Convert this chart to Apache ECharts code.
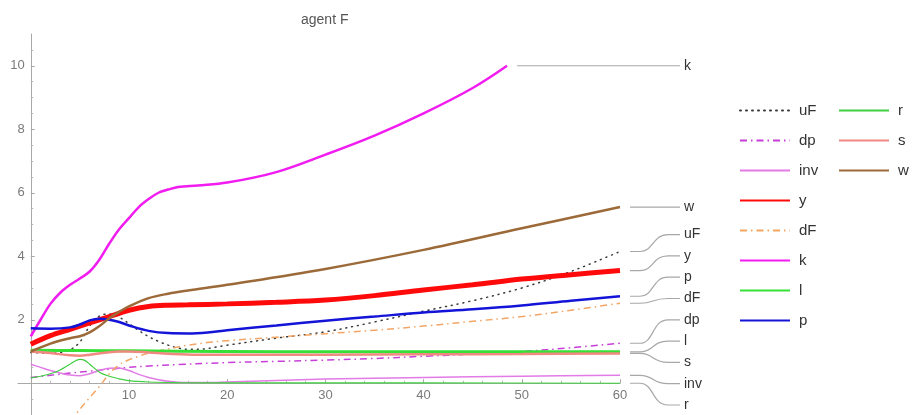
<!DOCTYPE html>
<html>
<head>
<meta charset="utf-8">
<title>agent F</title>
<script src="https://cdn.jsdelivr.net/npm/echarts@6/dist/echarts.min.js"></script>
<style>
  html, body { margin: 0; padding: 0; background: #ffffff; }
  #chart { width: 921px; height: 415px; }
</style>
</head>
<body>
<div id="chart"></div>
<script>
// ---- data: [t, value] pairs for each trajectory ----
const uF = [[0,0.97],[2,0.95],[3,0.97],[4,1.05],[5,1.3],[6,1.8],[7,2.12],[8,2.18],[9,2.08],[10,1.88],[11,1.66],[12,1.47],[13,1.32],[14,1.2],[15,1.11],[16,1.07],[17,1.07],[20,1.2],[25,1.42],[30,1.62],[35,1.93],[40,2.27],[45,2.6],[50,3.0],[55,3.52],[60,4.15]];
const dp = [[0,0.18],[2,0.25],[4,0.32],[6,0.38],[8,0.44],[10,0.5],[12,0.54],[15,0.59],[20,0.65],[25,0.69],[30,0.73],[35,0.78],[40,0.85],[45,0.92],[50,1.0],[55,1.12],[60,1.26]];
const inv = [[0,0.6],[1,0.5],[2,0.4],[3,0.32],[4,0.26],[5,0.24],[6,0.3],[7,0.4],[8,0.47],[9,0.48],[10,0.4],[11,0.28],[12,0.18],[13,0.11],[14,0.06],[15,0.03],[16,0.02],[18,0.02],[20,0.04],[25,0.09],[30,0.13],[40,0.18],[50,0.22],[60,0.25]];
const yOut = [[0,1.23],[2,1.5],[4,1.7],[6,1.9],[8,2.1],[10,2.3],[12,2.42],[14,2.46],[16,2.47],[20,2.5],[25,2.55],[30,2.62],[35,2.76],[40,2.94],[45,3.1],[50,3.28],[55,3.42],[60,3.55]];
const dF = [[4,-1.2],[5,-0.82],[6,-0.45],[7,-0.1],[8,0.3],[9,0.58],[10,0.74],[11,0.85],[12,0.95],[14,1.08],[16,1.2],[18,1.28],[20,1.34],[25,1.45],[30,1.56],[35,1.67],[40,1.8],[45,1.95],[50,2.1],[55,2.3],[60,2.52]];
const k = [[0,1.48],[1,2.0],[2,2.5],[3,2.85],[4,3.1],[5,3.3],[6,3.52],[7,3.9],[8,4.4],[9,4.85],[10,5.2],[11,5.55],[12,5.8],[13,6.0],[14,6.1],[15,6.18],[17,6.23],[20,6.32],[25,6.65],[30,7.2],[35,7.8],[40,8.5],[45,9.3],[48.5,10]];
const l = [[0,1.04],[5,1.03],[10,1.02],[20,1.0],[30,0.99],[40,0.99],[50,0.99],[60,0.99]];
const p = [[0,1.73],[2,1.72],[4,1.76],[5,1.85],[6,1.98],[7,2.03],[8,2.0],[9,1.93],[10,1.82],[12,1.65],[14,1.58],[16,1.57],[18,1.6],[20,1.67],[25,1.82],[30,1.97],[35,2.1],[40,2.23],[45,2.33],[50,2.45],[55,2.6],[60,2.74]];
const r = [[0,0.17],[1,0.22],[2,0.3],[3,0.42],[4,0.6],[5,0.75],[5.5,0.72],[6,0.6],[7,0.35],[8,0.22],[9,0.14],[10,0.08],[12,0.04],[15,0.02],[20,0.01],[30,0.01],[40,0.01],[60,0.0]];
const s = [[0,1.0],[2,0.95],[4,0.88],[5,0.87],[6,0.9],[8,0.98],[9,1.0],[10,1.0],[12,0.97],[14,0.93],[17,0.9],[20,0.9],[30,0.9],[40,0.91],[50,0.92],[60,0.94]];
const w = [[0,1.0],[2,1.25],[4,1.42],[5,1.48],[6,1.6],[7,1.8],[8,2.05],[9,2.25],[10,2.42],[12,2.68],[14,2.82],[16,2.92],[20,3.1],[30,3.6],[40,4.2],[50,4.88],[60,5.55]];

const names = ['uF', 'dp', 'inv', 'y', 'dF', 'k', 'l', 'p', 'r', 's', 'w'];
const xTicks = [10, 20, 30, 40, 50, 60];
const yTicks = [2, 4, 6, 8, 10];
const xRange = [-1.3, 60];
const yRange = [-1, 11];

// ---- styles ----
const dataByName = { uF, dp, inv, y: yOut, dF, k, l, p, r, s, w };
const styleByName = {
  uF:  { color: '#3a3a3a', width: 1.5, type: [1, 5], cap: 'round' },
  dp:  { color: '#c83fd8', width: 1.5, type: [7, 4, 1.5, 4] },
  inv: { color: '#e27be6', width: 1.5, type: 'solid' },
  y:   { color: '#ff0a0a', width: 5, type: 'solid' },
  dF:  { color: '#f2a565', width: 1.5, type: [7, 4, 1.5, 4] },
  k:   { color: '#f01cf0', width: 2.5, type: 'solid' },
  l:   { color: '#36e036', width: 3, type: 'solid' },
  p:   { color: '#1414d8', width: 2.5, type: 'solid' },
  r:   { color: '#3fcf3f', width: 1.2, type: 'solid' },
  s:   { color: '#f08a80', width: 2.5, type: 'solid' },
  w:   { color: '#9c6a38', width: 2.5, type: 'solid' }
};

const FONT = '"Liberation Sans", Arial, sans-serif';
const W = 921, H = 415;
const GRID = { left: 18, right: 301, top: 34, bottom: 0 };
const gridW = W - GRID.left - GRID.right;
const gridH = H - GRID.top - GRID.bottom;
// distance of the zero lines from the grid's bottom / left edges
const zeroFromBottom = (0 - yRange[0]) / (yRange[1] - yRange[0]) * gridH;
const zeroFromLeft = (0 - xRange[0]) / (xRange[1] - xRange[0]) * gridW;

const lineSeries = names.map(n => {
  const st = styleByName[n];
  return {
    name: n,
    type: 'line',
    data: dataByName[n],
    symbol: 'none',
    showSymbol: false,
    smooth: 0.35,
    clip: true,
    itemStyle: { color: st.color },
    lineStyle: { color: st.color, width: st.width, type: st.type, cap: st.cap || 'butt' },
    emphasis: { disabled: true }
  };
});

// Callout labels at the right end of every curve, spread apart vertically
function renderCallouts(params, api) {
  const cs = params.coordSys;
  const gap = 21.3;
  const limit = cs.y + cs.height - 10;
  const ends = names.map(n => {
    const d = dataByName[n];
    const pt = api.coord(d[d.length - 1]);
    return { name: n, x: pt[0], y: pt[1] };
  }).sort((a, b) => a.y - b.y);

  const topOf = c => {
    const n = c.items.length;
    const mean = c.sum / n;
    return Math.min(mean - (n - 1) * gap / 2, limit - (n - 1) * gap);
  };
  const clusters = [];
  ends.forEach(e => {
    clusters.push({ items: [e], sum: e.y });
    while (clusters.length > 1) {
      const b = clusters[clusters.length - 1];
      const a = clusters[clusters.length - 2];
      const aBottom = topOf(a) + (a.items.length - 1) * gap;
      if (topOf(b) - aBottom < gap) {
        clusters.pop();
        a.items = a.items.concat(b.items);
        a.sum += b.sum;
      } else break;
    }
  });

  const xEndLine = cs.x + cs.width + 60;
  const children = [];
  clusters.forEach(c => {
    const t = topOf(c);
    c.items.forEach((e, i) => {
      const ly = t + i * gap;
      const x0 = e.x + 10;
      const straight = Math.abs(ly - e.y) < 0.5;
      const path = straight
        ? ('M' + x0 + ',' + e.y + ' L' + xEndLine + ',' + ly)
        : ('M' + x0 + ',' + e.y +
           ' L' + (x0 + 10) + ',' + e.y +
           ' C' + (x0 + 24) + ',' + e.y + ' ' + (x0 + 22) + ',' + ly + ' ' + (x0 + 38) + ',' + ly +
           ' L' + xEndLine + ',' + ly);
      children.push({
        type: 'path',
        shape: { pathData: path },
        style: { stroke: '#a8a8a8', fill: null, lineWidth: 1.2 }
      });
      children.push({
        type: 'text',
        style: {
          text: e.name, x: xEndLine + 4, y: ly,
          align: 'left', verticalAlign: 'middle',
          fill: '#333333', font: '14px ' + FONT
        }
      });
    });
  });
  return { type: 'group', children };
}

const legendBase = {
  orient: 'vertical', top: 98,
  itemWidth: 50, itemHeight: 14, itemGap: 15,
  selectedMode: false,
  itemStyle: { opacity: 0 },
  textStyle: { fontSize: 15, color: '#333333', fontFamily: FONT, padding: [0, 0, 0, 4] }
};

const labelStyle = { color: '#7a7a7a', fontSize: 13, fontFamily: FONT, margin: 6 };

const option = {
  animation: false,
  backgroundColor: '#ffffff',
  title: {
    text: 'agent F',
    left: 296,
    top: 8,
    textStyle: { color: '#555555', fontSize: 14, fontWeight: 'normal', fontFamily: FONT }
  },
  legend: [
    Object.assign({}, legendBase, { left: 734, data: names.slice(0, 8) }),
    Object.assign({}, legendBase, { left: 833, data: names.slice(8) })
  ],
  grid: Object.assign({ containLabel: false, outerBoundsMode: 'none' }, GRID),
  xAxis: [
    {
      // axis line through y = 0 with its ticks
      type: 'value', min: xRange[0], max: xRange[1], splitNumber: 6,
      axisLine: { show: true, onZero: true, lineStyle: { color: '#a8a8a8', width: 1 } },
      axisTick: { show: true, inside: true, length: 4, customValues: xTicks, lineStyle: { color: '#a8a8a8' } },
      minorTick: { show: true, splitNumber: 5, length: 2.5, lineStyle: { color: '#b8b8b8' } },
      axisLabel: { show: false },
      splitLine: { show: false }
    },
    {
      // tick labels placed just under the zero line
      type: 'value', min: xRange[0], max: xRange[1], position: 'bottom', offset: -zeroFromBottom,
      axisLine: { show: false, onZero: false }, axisTick: { show: false }, splitLine: { show: false },
      axisLabel: Object.assign({ customValues: xTicks, formatter: v => (xTicks.indexOf(v) >= 0 ? String(v) : '') }, labelStyle)
    }
  ],
  yAxis: [
    {
      type: 'value', min: yRange[0], max: yRange[1], splitNumber: 6,
      axisLine: { show: true, onZero: true, lineStyle: { color: '#a8a8a8', width: 1 } },
      axisTick: { show: true, inside: true, length: 4, customValues: yTicks, lineStyle: { color: '#a8a8a8' } },
      minorTick: { show: true, splitNumber: 4, length: 2.5, lineStyle: { color: '#b8b8b8' } },
      axisLabel: { show: false },
      splitLine: { show: false }
    },
    {
      type: 'value', min: yRange[0], max: yRange[1], position: 'left', offset: -zeroFromLeft,
      axisLine: { show: false, onZero: false }, axisTick: { show: false }, splitLine: { show: false },
      axisLabel: Object.assign({ customValues: yTicks, formatter: v => (yTicks.indexOf(v) >= 0 ? String(v) : '') }, labelStyle)
    }
  ],
  series: lineSeries.concat([{
    type: 'custom',
    name: 'callouts',
    coordinateSystem: 'cartesian2d',
    data: [[0, 0]],
    clip: false,
    silent: true,
    z: 1,
    renderItem: renderCallouts
  }])
};

const chart = echarts.init(document.getElementById('chart'), null, { renderer: 'canvas' });
chart.setOption(option);
</script>
</body>
</html>
